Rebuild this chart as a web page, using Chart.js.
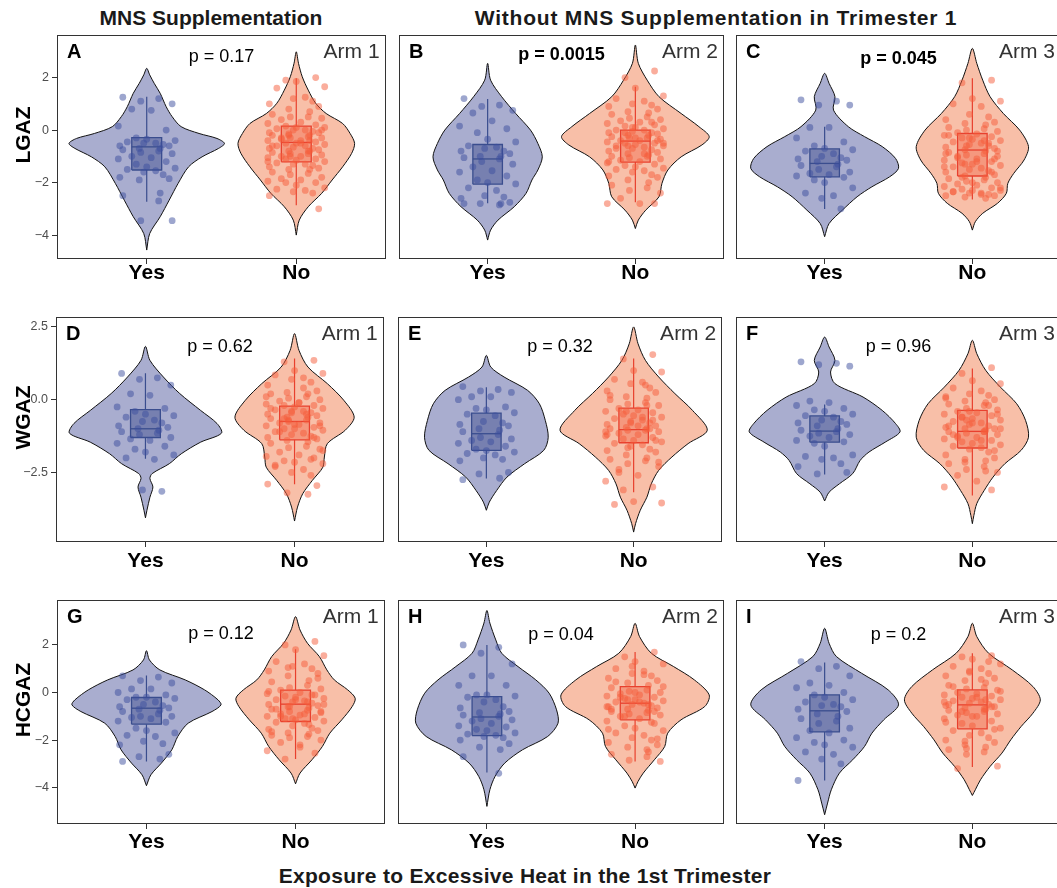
<!DOCTYPE html>
<html>
<head>
<meta charset="utf-8">
<script src="https://cdn.jsdelivr.net/npm/chart.js@4.4.0/dist/chart.umd.min.js"></script>
<style>
  html, body { margin: 0; padding: 0; background: #fff; overflow: hidden; }
  #wrap { position: relative; width: 1057px; height: 888px; overflow: hidden; font-family: "Liberation Sans", Arial, sans-serif; }
  #wrap canvas { position: absolute; }
  .hdr { position: absolute; font-weight: bold; font-size: 21px; color: #1a1a1a; transform: translate(-50%, -50%); white-space: nowrap; }
</style>
</head>
<body>
<div id="wrap">
  <div class="hdr" style="left:211px; top:18px">MNS Supplementation</div>
  <div class="hdr" style="left:716px; top:18px; letter-spacing:0.8px">Without MNS Supplementation in Trimester 1</div>
  <div class="hdr" style="left:525px; top:876px; letter-spacing:0.3px">Exposure to Excessive Heat in the 1st Trimester</div>
</div>
<script>
// ---- data ----
const CATEGORIES = ["Yes", "No"];
const ROW_TITLES = ["LGAZ", "WGAZ", "HCGAZ"];
const ARMS = ["Arm 1", "Arm 2", "Arm 3"];
const LETTERS = ["A", "B", "C", "D", "E", "F", "G", "H", "I"];
const P_TEXT = ["p = 0.17", "p = 0.0015", "p = 0.045", "p = 0.62", "p = 0.32", "p = 0.96", "p = 0.12", "p = 0.04", "p = 0.2"];
const P_BOLD = [false, true, true, false, false, false, false, false, false];
const P_Y = [2.77, 2.86, 2.7, 1.81, 1.81, 1.81, 2.45, 2.43, 2.43];

const Y_TICKS = [[-4, -2, 0, 2], [-2.5, 0, 2.5], [-4, -2, 0, 2]];
const Y_MIN = [-4.91, -4.89, -5.53];
const Y_MAX = [3.62, 2.84, 3.89];

// box stats: [lower whisker, q1, median, q3, upper whisker]
const BOX_YES = [
  [-2.73, -1.52, -0.64, -0.29, 1.27], [-2.79, -2.06, -1.10, -0.55, 1.18], [-3.01, -1.78, -1.27, -0.72, 0.13],
  [-2.03, -1.30, -1.00, -0.34, 0.91], [-2.71, -1.74, -1.17, -0.46, 0.43], [-2.57, -1.46, -1.08, -0.56, -0.17],
  [-2.90, -1.33, -0.66, -0.21, 0.71], [-3.36, -1.81, -1.03, -0.17, 2.00], [-3.70, -1.66, -0.77, -0.10, 1.26]
];
const BOX_NO = [
  [-2.86, -1.21, -0.47, 0.15, 1.97], [-2.75, -1.22, -0.42, 0.00, 1.65], [-2.64, -1.75, -0.76, -0.13, 1.97],
  [-2.91, -1.38, -0.75, -0.22, 1.41], [-3.18, -1.48, -1.03, -0.29, 1.41], [-3.29, -1.66, -1.09, -0.37, 1.07],
  [-2.80, -1.22, -0.49, 0.10, 1.82], [-2.90, -1.15, -0.45, 0.25, 1.70], [-3.13, -1.53, -0.52, 0.11, 1.65]
];

// violin profiles: [value, half width]
const VY_A = [[-4.57,0],[-3.94,0.02],[-3.30,0.09],[-2.67,0.15],[-2.03,0.21],[-1.40,0.28],[-1.02,0.37],[-0.70,0.48],[-0.51,0.52],[-0.32,0.47],[-0.13,0.35],[0.13,0.23],[0.51,0.17],[0.89,0.13],[1.40,0.09],[1.78,0.05],[2.10,0.02],[2.35,0]];
const VN_A = [[-4.00,0],[-3.43,0.02],[-2.92,0.08],[-2.41,0.17],[-1.90,0.24],[-1.40,0.31],[-0.89,0.37],[-0.51,0.39],[-0.13,0.36],[0.25,0.31],[0.63,0.20],[1.02,0.13],[1.52,0.08],[2.03,0.04],[2.54,0.015],[2.98,0]];
const VY_B = [[-4.19,0],[-3.81,0.02],[-3.43,0.07],[-2.92,0.18],[-2.41,0.26],[-1.90,0.30],[-1.52,0.34],[-1.02,0.37],[-0.51,0.34],[0,0.29],[0.63,0.19],[1.27,0.095],[1.90,0.02],[2.54,0]];
const VN_B = [[-3.75,0],[-3.43,0.02],[-3.05,0.07],[-2.54,0.16],[-2.03,0.18],[-1.52,0.22],[-1.02,0.31],[-0.57,0.45],[-0.25,0.50],[0.13,0.43],[0.63,0.31],[1.27,0.16],[1.90,0.08],[2.54,0.02],[3.24,0]];
const VY_C = [[-4.06,0],[-3.56,0.03],[-3.05,0.12],[-2.54,0.22],[-2.16,0.32],[-1.78,0.44],[-1.46,0.50],[-1.08,0.48],[-0.63,0.39],[-0.25,0.27],[0.13,0.16],[0.76,0.06],[1.27,0.07],[1.78,0.03],[2.16,0]];
const VN_C = [[-3.81,0],[-3.49,0.02],[-3.17,0.07],[-2.79,0.17],[-2.41,0.23],[-2.03,0.24],[-1.65,0.28],[-1.14,0.35],[-0.63,0.38],[0,0.32],[0.63,0.21],[1.27,0.12],[1.90,0.07],[2.54,0.03],[3.11,0]];
const VY_D = [[-4.06,0],[-3.80,0.01],[-3.35,0.03],[-3.00,0.05],[-2.71,0.03],[-2.54,0.045],[-2.20,0.16],[-1.86,0.24],[-1.46,0.37],[-1.15,0.51],[-0.82,0.48],[-0.37,0.37],[0.21,0.23],[0.78,0.12],[1.35,0.03],[1.83,0]];
const VN_D = [[-4.17,0],[-3.69,0.02],[-3.23,0.055],[-2.77,0.12],[-2.32,0.19],[-1.97,0.20],[-1.51,0.22],[-1.05,0.34],[-0.60,0.40],[-0.02,0.33],[0.55,0.22],[1.12,0.09],[1.69,0.03],[2.27,0]];
const VY_E = [[-3.80,0],[-3.52,0.02],[-3.12,0.07],[-2.66,0.14],[-2.20,0.26],[-1.74,0.39],[-1.29,0.42],[-0.71,0.40],[-0.14,0.36],[0.32,0.28],[0.78,0.12],[1.12,0.03],[1.52,0]];
const VN_E = [[-4.55,0],[-4.26,0.013],[-3.80,0.045],[-3.35,0.09],[-2.89,0.12],[-2.43,0.17],[-1.97,0.26],[-1.51,0.37],[-1.05,0.50],[-0.37,0.40],[0.21,0.28],[0.78,0.17],[1.35,0.08],[1.92,0.03],[2.50,0]];
const VY_F = [[-3.48,0],[-3.18,0.03],[-2.89,0.10],[-2.54,0.19],[-2.09,0.24],[-1.80,0.30],[-1.46,0.41],[-1.11,0.51],[-0.82,0.48],[-0.37,0.39],[0.09,0.26],[0.55,0.07],[0.95,0.04],[1.35,0.07],[1.81,0.03],[2.15,0]];
const VN_F = [[-4.26,0],[-3.98,0.01],[-3.57,0.03],[-3.12,0.08],[-2.66,0.14],[-2.20,0.22],[-1.74,0.33],[-1.29,0.38],[-0.71,0.36],[-0.14,0.30],[0.43,0.19],[1.01,0.09],[1.58,0.03],[2.04,0]];
const VY_G = [[-3.92,0],[-3.46,0.03],[-2.97,0.10],[-2.41,0.17],[-1.85,0.21],[-1.29,0.28],[-0.80,0.44],[-0.52,0.50],[-0.31,0.48],[0.11,0.39],[0.53,0.26],[0.95,0.09],[1.37,0.02],[1.76,0]];
const VN_G = [[-3.84,0],[-3.39,0.03],[-2.83,0.11],[-2.27,0.18],[-1.71,0.23],[-1.15,0.31],[-0.59,0.38],[-0.24,0.40],[0.11,0.35],[0.53,0.26],[0.95,0.21],[1.51,0.16],[2.07,0.08],[2.63,0.03],[3.19,0]];
const VY_H = [[-4.79,0],[-4.09,0.02],[-3.53,0.055],[-2.97,0.12],[-2.41,0.24],[-1.85,0.41],[-1.29,0.48],[-0.73,0.47],[-0.03,0.42],[0.53,0.33],[1.09,0.21],[1.65,0.10],[2.21,0.06],[2.92,0.02],[3.45,0]];
const VN_H = [[-4.02,0],[-3.74,0.02],[-3.39,0.055],[-2.83,0.13],[-2.27,0.20],[-1.71,0.22],[-1.15,0.31],[-0.59,0.47],[-0.10,0.50],[0.53,0.40],[1.09,0.26],[1.65,0.11],[2.35,0.03],[2.91,0]];
const VY_I = [[-5.14,0],[-4.65,0.02],[-4.09,0.045],[-3.39,0.10],[-2.83,0.19],[-2.27,0.27],[-1.71,0.32],[-1.15,0.40],[-0.52,0.50],[0.11,0.43],[0.81,0.25],[1.51,0.08],[2.07,0.03],[2.70,0]];
const VN_I = [[-4.33,0],[-4.09,0.02],[-3.67,0.055],[-3.11,0.12],[-2.55,0.20],[-1.99,0.26],[-1.43,0.33],[-0.87,0.41],[-0.31,0.46],[0.25,0.41],[0.95,0.27],[1.65,0.11],[2.35,0.03],[2.91,0]];

// individual observations
const PY_A = [1.25,1.2,1.1,1.0,0.8,0.75,0.15,0.0,-0.3,-0.35,-0.4,-0.45,-0.5,-0.5,-0.55,-0.6,-0.6,-0.7,-0.7,-0.75,-0.8,-0.85,-0.9,-1.0,-1.05,-1.1,-1.2,-1.3,-1.4,-1.45,-1.5,-1.55,-1.6,-1.7,-1.8,-1.85,-1.9,-2.4,-2.5,-2.7,-3.45,-3.45];
const PN_A = [2.0,1.9,1.85,1.65,1.6,1.25,1.2,1.1,1.0,0.9,0.8,0.7,0.6,0.5,0.5,0.45,0.4,0.3,0.25,0.2,0.15,0.1,0.1,0.05,0.0,0.0,-0.05,-0.1,-0.1,-0.15,-0.2,-0.2,-0.25,-0.3,-0.3,-0.35,-0.4,-0.4,-0.45,-0.5,-0.5,-0.55,-0.6,-0.6,-0.65,-0.7,-0.7,-0.75,-0.8,-0.8,-0.85,-0.9,-0.9,-0.95,-1.0,-1.0,-1.05,-1.1,-1.1,-1.15,-1.2,-1.25,-1.3,-1.3,-1.35,-1.4,-1.45,-1.5,-1.5,-1.6,-1.65,-1.7,-1.8,-1.85,-1.9,-1.95,-2.0,-2.0,-2.1,-2.2,-2.25,-2.3,-2.35,-2.4,-2.5,-3.0,-0.2,-0.4,-0.6,-0.8,-1.0,0.0,-0.3,-0.5,-1.2];
const PY_B = [1.2,0.95,0.9,0.75,0.65,0.35,0.15,0.05,-0.1,-0.35,-0.45,-0.6,-0.65,-0.7,-0.8,-0.8,-0.9,-1.0,-1.0,-1.05,-1.1,-1.2,-1.3,-1.4,-1.55,-1.6,-1.75,-1.9,-2.0,-2.05,-2.2,-2.3,-2.5,-2.55,-2.6,-2.75,-2.8,-2.8,-2.8,-2.85];
const PN_B = [2.25,2.0,1.6,1.3,1.2,1.1,1.0,0.95,0.9,0.8,0.7,0.65,0.6,0.5,0.45,0.4,0.35,0.3,0.25,0.2,0.15,0.1,0.05,0.0,0.0,-0.05,-0.1,-0.1,-0.15,-0.2,-0.2,-0.25,-0.3,-0.3,-0.35,-0.4,-0.4,-0.45,-0.5,-0.5,-0.55,-0.6,-0.6,-0.65,-0.7,-0.75,-0.8,-0.85,-0.9,-0.95,-1.0,-1.0,-1.05,-1.1,-1.15,-1.2,-1.25,-1.3,-1.35,-1.4,-1.45,-1.5,-1.55,-1.6,-1.7,-1.75,-1.8,-1.9,-2.0,-2.1,-2.2,-2.3,-2.4,-2.6,-2.8,-2.8,-2.8,-0.1,-0.3,-0.5,-0.7,-0.9,0.1,0.3,-1.2,-0.4,-0.6];
const PY_C = [1.15,1.1,0.95,0.95,0.1,0.1,-0.3,-0.45,-0.6,-0.7,-0.75,-0.8,-0.9,-1.0,-1.05,-1.1,-1.15,-1.2,-1.3,-1.35,-1.4,-1.5,-1.6,-1.65,-1.7,-1.75,-1.8,-1.9,-2.0,-2.2,-2.4,-2.5,-2.6,-3.0];
const PN_C = [1.9,1.8,1.2,1.1,1.0,0.9,0.6,0.5,0.4,0.3,0.25,0.2,0.1,0.05,0.0,-0.05,-0.1,-0.15,-0.2,-0.25,-0.3,-0.35,-0.4,-0.45,-0.5,-0.55,-0.6,-0.65,-0.7,-0.75,-0.8,-0.85,-0.9,-0.95,-1.0,-1.05,-1.1,-1.15,-1.2,-1.25,-1.3,-1.35,-1.4,-1.45,-1.5,-1.55,-1.6,-1.7,-1.75,-1.8,-1.85,-1.9,-1.95,-2.0,-2.05,-2.1,-2.15,-2.2,-2.25,-2.3,-2.3,-2.35,-2.4,-2.4,-2.45,-2.5,-2.5,-2.55,-2.6,-0.2,-0.4,-0.6,-0.8,-1.0,-1.2,-1.4,-1.6,-1.8,-2.0,-2.2,-2.35,-2.45,-0.3,-0.5,-0.9,-1.1,-1.3];
const PY_D = [0.9,0.75,0.7,0.5,0.2,0.15,-0.25,-0.3,-0.4,-0.5,-0.55,-0.6,-0.7,-0.75,-0.8,-0.9,-0.95,-1.0,-1.05,-1.1,-1.15,-1.2,-1.3,-1.35,-1.4,-1.5,-1.6,-1.7,-1.8,-1.9,-2.0,-2.05,-3.1,-3.15];
const PN_D = [1.35,1.3,1.0,0.9,0.85,0.75,0.7,0.6,0.5,0.3,0.25,0.2,0.2,0.1,0.05,0.0,-0.05,-0.1,-0.15,-0.2,-0.2,-0.25,-0.3,-0.35,-0.4,-0.4,-0.45,-0.5,-0.55,-0.6,-0.6,-0.65,-0.7,-0.75,-0.8,-0.8,-0.85,-0.9,-0.95,-1.0,-1.0,-1.05,-1.1,-1.15,-1.2,-1.25,-1.3,-1.35,-1.4,-1.45,-1.5,-1.6,-1.65,-1.7,-1.8,-1.9,-1.95,-2.0,-2.1,-2.15,-2.2,-2.3,-2.4,-2.5,-2.6,-2.9,-2.95,-3.2,-3.25,-0.3,-0.5,-0.7,-0.9,-1.1,-0.1,0.1,-1.3,-0.65,-0.85,-1.75,-2.25,0.4,-0.45,-2.05];
const PY_E = [0.45,0.35,0.3,0.25,0.1,0.1,0.0,-0.25,-0.3,-0.35,-0.45,-0.5,-0.55,-0.75,-0.8,-0.85,-0.9,-1.0,-1.05,-1.1,-1.2,-1.3,-1.35,-1.4,-1.45,-1.5,-1.6,-1.7,-1.75,-1.8,-1.85,-1.9,-2.0,-2.05,-2.1,-2.5,-2.55,-2.7,-2.75];
const PN_E = [1.55,1.4,1.0,0.95,0.7,0.6,0.55,0.4,0.3,0.25,0.1,0.05,0.0,-0.1,-0.15,-0.2,-0.3,-0.35,-0.4,-0.45,-0.5,-0.55,-0.6,-0.65,-0.7,-0.75,-0.8,-0.85,-0.9,-0.95,-1.0,-1.0,-1.05,-1.05,-1.1,-1.15,-1.2,-1.25,-1.3,-1.35,-1.4,-1.45,-1.5,-1.55,-1.6,-1.7,-1.75,-1.8,-1.9,-2.0,-2.05,-2.1,-2.2,-2.3,-2.4,-2.6,-2.8,-3.0,-3.1,-3.5,-3.55,-3.6,-0.6,-0.8,-1.0,-1.2,-1.4,-0.4,-0.2,0.15,0.5,-1.65,-2.15,-2.5,-0.9,-1.1,-0.7];
const PY_F = [1.3,1.25,1.2,1.15,-0.05,-0.1,-0.2,-0.3,-0.35,-0.4,-0.5,-0.55,-0.6,-0.7,-0.75,-0.8,-0.85,-0.9,-1.0,-1.05,-1.1,-1.15,-1.2,-1.25,-1.3,-1.4,-1.45,-1.5,-1.6,-1.9,-1.95,-2.0,-2.05,-2.2,-2.3,-2.5,-2.55];
const PN_F = [1.1,0.9,0.65,0.55,0.4,0.3,0.2,0.15,0.1,0.0,-0.05,-0.1,-0.15,-0.2,-0.3,-0.35,-0.4,-0.45,-0.5,-0.55,-0.6,-0.65,-0.7,-0.75,-0.8,-0.85,-0.9,-0.95,-1.0,-1.0,-1.05,-1.1,-1.1,-1.15,-1.2,-1.25,-1.3,-1.35,-1.4,-1.45,-1.5,-1.55,-1.6,-1.65,-1.7,-1.8,-1.9,-2.0,-2.05,-2.1,-2.2,-2.3,-2.4,-2.5,-2.6,-2.8,-3.0,-3.1,-0.6,-0.8,-1.0,-1.2,-1.4,-0.4,-0.2,0.05,-1.75,-2.15,-2.45,-0.9,-1.1,-0.7,-0.5,-1.3];
const PY_G = [0.7,0.65,0.5,0.4,0.15,0.15,0.0,-0.1,-0.2,-0.2,-0.25,-0.3,-0.4,-0.5,-0.55,-0.6,-0.65,-0.7,-0.75,-0.8,-0.9,-1.0,-1.0,-1.05,-1.1,-1.2,-1.25,-1.5,-1.6,-1.7,-1.8,-1.85,-2.05,-2.15,-2.2,-2.6,-2.7,-2.8,-2.9];
const PN_G = [2.15,2.0,1.8,1.55,1.3,1.2,1.1,1.0,0.9,0.8,0.7,0.5,0.45,0.3,0.2,0.15,0.1,0.0,-0.05,-0.1,-0.15,-0.2,-0.25,-0.3,-0.35,-0.4,-0.45,-0.5,-0.55,-0.6,-0.65,-0.7,-0.75,-0.8,-0.85,-0.9,-0.95,-1.0,-1.05,-1.1,-1.15,-1.2,-1.25,-1.3,-1.4,-1.5,-1.55,-1.6,-1.7,-1.75,-1.8,-1.85,-1.9,-2.0,-2.1,-2.2,-2.45,-2.55,-2.8,-0.3,-0.5,-0.7,-0.9,-1.1,-0.1,0.05,0.6,1.05,-1.35,-1.65,-0.4,-0.6,-0.8,-1.0,-2.3];
const PY_H = [2.0,1.9,1.65,1.2,0.7,0.7,0.3,0.3,-0.1,-0.1,-0.15,-0.2,-0.3,-0.4,-0.6,-0.65,-0.8,-0.85,-0.9,-0.95,-1.0,-1.1,-1.15,-1.2,-1.3,-1.4,-1.45,-1.55,-1.6,-1.7,-1.75,-1.8,-1.85,-1.9,-2.0,-2.15,-2.3,-2.4,-2.7,-3.4];
const PN_H = [1.7,1.5,1.3,1.2,1.0,0.9,0.8,0.7,0.6,0.5,0.4,0.3,0.2,0.1,0.05,0.0,-0.05,-0.1,-0.15,-0.2,-0.25,-0.3,-0.35,-0.4,-0.45,-0.5,-0.55,-0.6,-0.65,-0.7,-0.75,-0.8,-0.85,-0.9,-0.95,-1.0,-1.1,-1.2,-1.3,-1.4,-1.5,-1.6,-1.7,-1.8,-1.9,-2.0,-2.1,-2.2,-2.3,-2.5,-2.6,-2.7,-2.85,-2.9,-0.2,-0.4,-0.6,-0.8,-1.0,0.0,0.25,0.45,0.75,1.1,-1.25,-1.55,-1.95,-0.3,-0.5,-0.7,-2.4];
const PY_I = [1.3,1.1,1.0,0.7,0.4,0.3,0.2,0.0,-0.1,-0.2,-0.3,-0.4,-0.5,-0.55,-0.6,-0.7,-0.8,-0.9,-1.0,-1.1,-1.2,-1.3,-1.5,-1.6,-1.7,-1.9,-2.0,-2.1,-2.2,-2.3,-2.5,-2.6,-2.8,-3.0,-3.7];
const PN_I = [1.55,1.5,1.4,1.2,1.1,1.0,0.9,0.8,0.7,0.6,0.5,0.4,0.3,0.2,0.15,0.1,0.0,-0.05,-0.1,-0.15,-0.2,-0.25,-0.3,-0.35,-0.4,-0.45,-0.5,-0.55,-0.6,-0.65,-0.7,-0.75,-0.8,-0.85,-0.9,-0.95,-1.0,-1.1,-1.2,-1.3,-1.4,-1.5,-1.6,-1.7,-1.8,-1.9,-2.0,-2.1,-2.2,-2.3,-2.4,-2.5,-2.6,-3.1,-3.2,-0.2,-0.4,-0.6,-0.8,-1.0,0.05,0.25,0.55,0.85,1.3,-1.25,-1.55,-2.05,-0.3,-0.5,-0.7,-2.35];

const VIOLIN_YES = [VY_A, VY_B, VY_C, VY_D, VY_E, VY_F, VY_G, VY_H, VY_I];
const VIOLIN_NO = [VN_A, VN_B, VN_C, VN_D, VN_E, VN_F, VN_G, VN_H, VN_I];
const POINTS_YES = [PY_A, PY_B, PY_C, PY_D, PY_E, PY_F, PY_G, PY_H, PY_I];
const POINTS_NO = [PN_A, PN_B, PN_C, PN_D, PN_E, PN_F, PN_G, PN_H, PN_I];

// ---- layout / style ----
const ROW_TOP = [35, 317, 600];
const ROW_BOTTOM = [259, 542, 824];
const COL_LEFT = [[57, 396, 733], [56, 395, 733], [57, 395, 733]];
const COL_RIGHT = [[389, 727, 1064], [387, 725, 1064], [388, 727, 1064]];
const LABEL_PAD = [-1.5, 4, 3];
const X_AXIS_H = 36;
const PAD_TOP = 12;
const JITTER = [-0.16, 0.08, -0.04, 0.17, -0.1, 0.03, -0.19, 0.13, -0.07, 0.0, 0.19, -0.13, 0.06, -0.02, 0.11, -0.18, 0.15, -0.05, 0.09];
const BOX_HALF = 0.1;
const FONT = '"Liberation Sans", Arial, sans-serif';

const COLORS = {
  yes: { violin: "#a9adcf", box: "rgba(45,60,130,0.40)", line: "#3a4d8e", point: "rgba(60,78,158,0.5)" },
  no:  { violin: "#f8bfa8", box: "rgba(240,80,50,0.35)", line: "#e8402e", point: "rgba(245,92,58,0.5)" }
};

Chart.defaults.font.family = FONT;

function outline(profile, center) {
  const left = profile.map(([v, w]) => ({ x: center - w, y: v }));
  const right = profile.slice().reverse().map(([v, w]) => ({ x: center + w, y: v }));
  return left.concat(right.slice(1));
}

function groupDatasets(violin, box, pts, center, col, jShift) {
  const [lo, q1, med, q3, hi] = box;
  return [
    { type: "line", data: outline(violin, center), borderColor: "#111", borderWidth: 1,
      backgroundColor: col.violin, fill: "shape", pointRadius: 0, tension: 0.3, order: 6 },
    { type: "line", data: [{ x: center - BOX_HALF, y: q1 }, { x: center + BOX_HALF, y: q1 }, { x: center + BOX_HALF, y: q3 },
        { x: center - BOX_HALF, y: q3 }, { x: center - BOX_HALF, y: q1 }],
      borderColor: col.line, borderWidth: 1.3, backgroundColor: col.box, fill: "shape", pointRadius: 0, tension: 0, order: 4 },
    { type: "line", data: [{ x: center - BOX_HALF, y: med }, { x: center + BOX_HALF, y: med }],
      borderColor: col.line, borderWidth: 1.3, pointRadius: 0, fill: false, order: 3 },
    { type: "line", data: [{ x: center, y: lo }, { x: center, y: q1 }, { x: center, y: null }, { x: center, y: q3 }, { x: center, y: hi }],
      borderColor: col.line, borderWidth: 1.2, pointRadius: 0, fill: false, spanGaps: false, order: 3 },
    { type: "scatter", data: pts.map((v, i) => ({ x: center + JITTER[(i + jShift) % JITTER.length], y: v })),
      backgroundColor: col.point, pointRadius: 3.4, pointBorderWidth: 0, order: 1 }
  ];
}

const panelDecor = {
  id: "panelDecor",
  afterDraw(chart, args, o) {
    const { ctx, chartArea: a, scales: { x, y } } = chart;
    ctx.save();
    ctx.strokeStyle = "#333";
    ctx.lineWidth = 1;
    ctx.strokeRect(a.left + 0.5, a.top + 0.5, a.right - a.left - 1, a.bottom - a.top - 1);
    ctx.textBaseline = "middle";
    ctx.fillStyle = "#000";
    ctx.font = "bold 20px " + FONT;
    ctx.textAlign = "left";
    ctx.fillText(o.letter, a.left + 10, a.top + 17);
    ctx.font = "21px " + FONT;
    ctx.fillStyle = "#333";
    ctx.textAlign = "center";
    ctx.fillText(o.arm, x.getPixelForValue(2.37), a.top + 17);
    ctx.font = (o.pBold ? "bold " : "") + "18px " + FONT;
    ctx.fillStyle = "#000";
    ctx.fillText(o.p, x.getPixelForValue(1.5), y.getPixelForValue(o.pY));
    if (o.yTitle) {
      ctx.translate(24, (a.top + a.bottom) / 2 - 12);
      ctx.rotate(-Math.PI / 2);
      ctx.font = "bold 21px " + FONT;
      ctx.fillText(o.yTitle, 0, 0);
    }
    ctx.restore();
  }
};

const wrap = document.getElementById("wrap");

for (let r = 0; r < 3; r++) {
  for (let c = 0; c < 3; c++) {
    const k = r * 3 + c;
    const L = COL_LEFT[r][c], R = COL_RIGHT[r][c], T = ROW_TOP[r], B = ROW_BOTTOM[r];
    const canvasLeft = c === 0 ? 0 : L - 1;
    const canvas = document.createElement("canvas");
    const w = R - canvasLeft + 1;
    const h = (B - T) + PAD_TOP + X_AXIS_H;
    canvas.width = w; canvas.height = h;
    canvas.style.left = canvasLeft + "px";
    canvas.style.top = (T - PAD_TOP) + "px";
    canvas.style.width = w + "px";
    canvas.style.height = h + "px";
    wrap.appendChild(canvas);

    const datasets = [
      ...groupDatasets(VIOLIN_YES[k], BOX_YES[k], POINTS_YES[k], 1, COLORS.yes, 0),
      ...groupDatasets(VIOLIN_NO[k], BOX_NO[k], POINTS_NO[k], 2, COLORS.no, 7)
    ];

    new Chart(canvas, {
      type: "scatter",
      data: { datasets },
      options: {
        responsive: false,
        animation: false,
        events: [],
        layout: { padding: { top: PAD_TOP, right: 1, left: c === 0 ? 0 : 1, bottom: 0 } },
        plugins: {
          legend: { display: false },
          tooltip: { enabled: false },
          panelDecor: { letter: LETTERS[k], arm: ARMS[c], p: P_TEXT[k], pBold: P_BOLD[k], pY: P_Y[k],
                        yTitle: c === 0 ? ROW_TITLES[r] : null }
        },
        scales: {
          x: {
            type: "linear", min: 0.4, max: 2.6,
            afterBuildTicks: s => { s.ticks = [{ value: 1 }, { value: 2 }]; },
            afterFit: s => { s.height = X_AXIS_H; },
            ticks: { callback: (v, i) => CATEGORIES[i], color: "#000", padding: LABEL_PAD[r],
                     font: { size: 21, weight: "bold", lineHeight: 1 }, autoSkip: false, maxRotation: 0 },
            grid: { drawOnChartArea: false, drawTicks: true, tickLength: 5, color: "#333" },
            border: { display: false }
          },
          y: {
            type: "linear", display: c === 0, min: Y_MIN[r], max: Y_MAX[r],
            afterBuildTicks: s => { s.ticks = Y_TICKS[r].map(v => ({ value: v })); },
            afterFit: s => { s.width = c === 0 ? L : 0; },
            ticks: { callback: v => v.toFixed(r === 1 ? 1 : 0).replace("-", "\u2212"), color: "#4d4d4d",
                     padding: 3, font: { size: 12.5 } },
            grid: { drawOnChartArea: false, drawTicks: true, tickLength: 5, color: "#333" },
            border: { display: false }
          }
        }
      },
      plugins: [panelDecor]
    });
  }
}
</script>
</body>
</html>
